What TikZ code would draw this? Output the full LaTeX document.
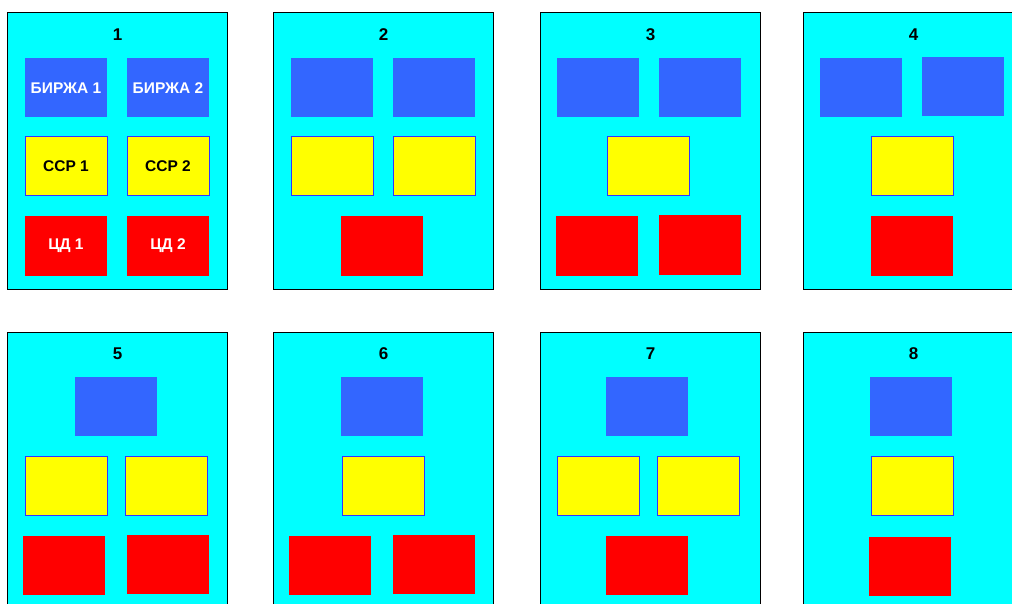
\documentclass[tikz,border=0pt]{standalone}
\usepackage{fontspec}
\setmainfont{Liberation Sans}
\definecolor{panelCyan}{HTML}{00FFFF}
\definecolor{boxBlue}{HTML}{3366FF}
\definecolor{boxYellow}{HTML}{FFFF00}
\definecolor{boxRed}{HTML}{FF0000}
\definecolor{boxEdge}{HTML}{3333FF}

\tikzset{
  panel/.style={rectangle, draw=black, line width=0.8pt, fill=panelCyan, minimum width=220pt, minimum height=277pt, anchor=north west, inner sep=0pt},
  paneltitle/.style={font=\bfseries\fontsize{17}{20}\selectfont, text=black},
  stock/.style={rectangle, fill=boxBlue, minimum width=82pt, minimum height=59pt, inner sep=0pt, text=white, font=\bfseries\fontsize{15.5}{18}\selectfont},
  clearing/.style={rectangle, fill=boxYellow, draw=boxEdge, line width=0.8pt, minimum width=82pt, minimum height=59pt, inner sep=0pt, text=black, font=\bfseries\fontsize{15.5}{18}\selectfont},
  depo/.style={rectangle, fill=boxRed, minimum width=82pt, minimum height=59pt, inner sep=0pt, text=white, font=\bfseries\fontsize{15.5}{18}\selectfont}
}

\begin{document}
\begin{tikzpicture}[x=1pt, y=-1pt]
  \useasboundingbox (0,0) rectangle (1012,604);
  \clip (0,0) rectangle (1012,604);
  \fill[white] (0,0) rectangle (1012,604);

  % top row
  \begin{scope}[shift={(7,12)}]
    \node[panel] (p1) at (0,0) {};
    \node[paneltitle] (t1) at (110.5,23) {1};
    \node[stock] (b1a) at (59,76) {БИРЖА 1};
    \node[stock] (b1b) at (161,76) {БИРЖА 2};
    \node[clearing] (c1a) at (59,154) {ССР 1};
    \node[clearing] (c1b) at (161,154) {ССР 2};
    \node[depo] (d1a) at (59,234) {ЦД 1};
    \node[depo] (d1b) at (161,234) {ЦД 2};
  \end{scope}

  \begin{scope}[shift={(273,12)}]
    \node[panel] (p2) at (0,0) {};
    \node[paneltitle] (t2) at (110.5,23) {2};
    \node[stock] (b2a) at (59,76) {};
    \node[stock] (b2b) at (161,76) {};
    \node[clearing] (c2a) at (59,154) {};
    \node[clearing] (c2b) at (161,154) {};
    \node[depo] (d2) at (109,234) {};
  \end{scope}

  \begin{scope}[shift={(540,12)}]
    \node[panel] (p3) at (0,0) {};
    \node[paneltitle] (t3) at (110.5,23) {3};
    \node[stock] (b3a) at (58,76) {};
    \node[stock] (b3b) at (160,76) {};
    \node[clearing] (c3) at (108,154) {};
    \node[depo] (d3a) at (57,234) {};
    \node[depo] (d3b) at (160,233) {};
  \end{scope}

  \begin{scope}[shift={(803,12)}]
    \node[panel] (p4) at (0,0) {};
    \node[paneltitle] (t4) at (110.5,23) {4};
    \node[stock] (b4a) at (58,76) {};
    \node[stock] (b4b) at (160,75) {};
    \node[clearing] (c4) at (109,154) {};
    \node[depo] (d4) at (109,234) {};
  \end{scope}

  % bottom row
  \begin{scope}[shift={(7,332)}]
    \node[panel] (p5) at (0,0) {};
    \node[paneltitle] (t5) at (110.5,22) {5};
    \node[stock] (b5) at (109,74) {};
    \node[clearing] (c5a) at (59,154) {};
    \node[clearing] (c5b) at (159,154) {};
    \node[depo] (d5a) at (57,233) {};
    \node[depo] (d5b) at (161,232) {};
  \end{scope}

  \begin{scope}[shift={(273,332)}]
    \node[panel] (p6) at (0,0) {};
    \node[paneltitle] (t6) at (110.5,22) {6};
    \node[stock] (b6) at (109,74) {};
    \node[clearing] (c6) at (110,154) {};
    \node[depo] (d6a) at (57,233) {};
    \node[depo] (d6b) at (161,232) {};
  \end{scope}

  \begin{scope}[shift={(540,332)}]
    \node[panel] (p7) at (0,0) {};
    \node[paneltitle] (t7) at (110.5,22) {7};
    \node[stock] (b7) at (107,74) {};
    \node[clearing] (c7a) at (58,154) {};
    \node[clearing] (c7b) at (158,154) {};
    \node[depo] (d7) at (107,233) {};
  \end{scope}

  \begin{scope}[shift={(803,332)}]
    \node[panel] (p8) at (0,0) {};
    \node[paneltitle] (t8) at (110.5,22) {8};
    \node[stock] (b8) at (108,74) {};
    \node[clearing] (c8) at (109,154) {};
    \node[depo] (d8) at (107,234) {};
  \end{scope}
\end{tikzpicture}
\end{document}
